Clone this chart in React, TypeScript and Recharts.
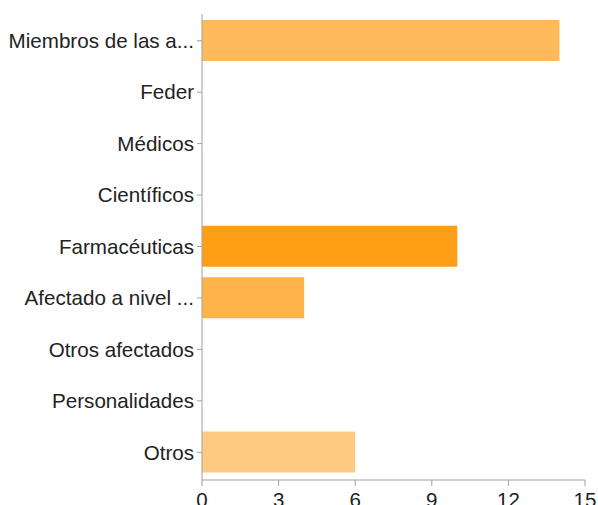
import React from "react";
import { BarChart, Bar, XAxis, YAxis, Cell } from "recharts";

const categories = [
  "Miembros de las a...",
  "Feder",
  "Médicos",
  "Científicos",
  "Farmacéuticas",
  "Afectado a nivel ...",
  "Otros afectados",
  "Personalidades",
  "Otros",
];
const values = [14, 0, 0, 0, 10, 4, 0, 0, 6];
const barColors = [
  "#FEBA5A",
  "#FEBA5A",
  "#FEBA5A",
  "#FEBA5A",
  "#FF9F16",
  "#FFB24A",
  "#FFB24A",
  "#FFB24A",
  "#FFCB82",
];
const xTicks = [0, 3, 6, 9, 12, 15];

const data = categories.map((name, i) => ({ name, value: values[i] }));

const FONT = "'Liberation Sans', Arial, Helvetica, sans-serif";
const AXIS = "#a0a0a0";

export default function App() {
  return (
    <div style={{ position: "absolute", left: 0, top: 0, background: "#fff" }}>
      <BarChart
        width={598}
        height={505}
        data={data}
        layout="vertical"
        margin={{ top: 14, right: 13, bottom: 0, left: 0 }}
      >
        <XAxis
          type="number"
          domain={[0, 15]}
          ticks={xTicks}
          interval={0}
          height={25}
          tickSize={6}
          tickMargin={6}
          stroke={AXIS}
          tick={{ fill: "#222", fontSize: 20.5, fontFamily: FONT }}
        />
        <YAxis
          type="category"
          dataKey="name"
          width={202}
          tickSize={5}
          tickMargin={3}
          interval={0}
          padding={{ top: 1, bottom: 2 }}
          stroke={AXIS}
          tick={{ fill: "#222", fontSize: 20.6, fontFamily: FONT }}
        />
        <Bar dataKey="value" barSize={41} isAnimationActive={false}>
          {data.map((d, i) => (
            <Cell key={d.name} fill={barColors[i]} />
          ))}
        </Bar>
      </BarChart>
    </div>
  );
}
